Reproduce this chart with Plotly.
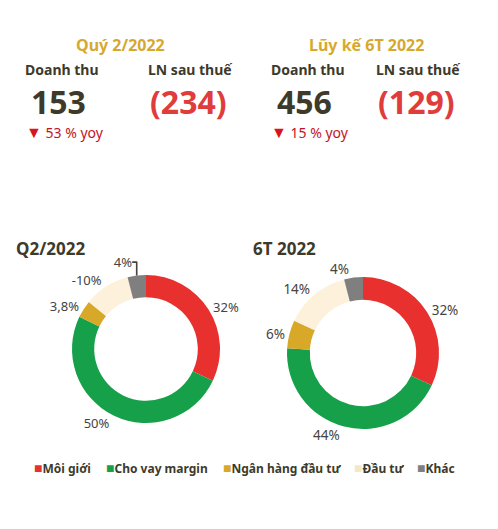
import plotly.graph_objects as go

# ── palette ──────────────────────────────────────────────────────────────
_DARK = "#3d3a2b"
_GOLD = "#d6a92e"
_RED = "#e03c3c"
_YOY = "#c4141f"
_FONT = "Noto Sans, Open Sans, sans-serif"

segments = ["Môi giới", "Cho vay margin", "Ngân hàng đầu tư", "Đầu tư", "Khác"]
seg_colors = ["#e8302f", "#16a04a", "#d8a829", "#fdf1dc", "#7f7f7f"]

q2_share = [32, 50, 3.8, 10, 4]          # slice size (abs %)
q2_text = ["32%", "50%", "3,8%", "-10%", "4%"]
h1_share = [32, 44, 6, 14, 4]
h1_text = ["32%", "44%", "6%", "14%", "4%"]

periods = ["Quý 2/2022", "Lũy kế 6T 2022"]
revenue = ["153", "456"]
profit = ["(234)", "(129)"]
rev_yoy = ["53 % yoy", "15 % yoy"]
chart_titles = ["Q2/2022", "6T 2022"]

W, H = 498, 529


def dom(cx, cy, r):
    return dict(x=[(cx - r) / W, (cx + r) / W], y=[1 - (cy + r) / H, 1 - (cy - r) / H])


fig = go.Figure()

for vals, txt, d, fs in [
    (q2_share, q2_text, dom(146, 349, 74), 13),
    (h1_share, h1_text, dom(363, 353, 76), 13.5),
]:
    fig.add_trace(go.Pie(
        labels=segments,
        values=vals,
        text=txt,
        textinfo="text",
        textposition="outside",
        textfont=dict(size=fs, color="#464340", family=_FONT),
        hole=0.70,
        sort=False,
        direction="clockwise",
        rotation=0,
        marker=dict(colors=seg_colors, line=dict(width=0)),
        domain=d,
        showlegend=False,
        hoverinfo="label+text",
    ))


def note(x, y, text, size, color, bold=False, xanchor="center"):
    fig.add_annotation(
        x=x / W, y=1 - y / H, xref="paper", yref="paper",
        text=f"<b>{text}</b>" if bold else text,
        showarrow=False, xanchor=xanchor, yanchor="middle",
        font=dict(size=size, color=color, family=_FONT),
        borderpad=0,
    )


# KPI blocks
kpi_pos = [
    dict(title=120, rev=62, prof=190, yoy=25),
    dict(title=366, rev=308, prof=418, yoy=270),
]
for k, p in enumerate(kpi_pos):
    note(p["title"], 45, periods[k], 16, _GOLD, bold=True)
    note(p["rev"], 70, "Doanh thu", 14, _DARK, bold=True)
    note(p["prof"], 70, "LN sau thuế", 14, _DARK, bold=True)
    note(p["rev"] - 4, 101, revenue[k], 32, _DARK, bold=True)
    note(p["prof"] - 2, 101, profit[k], 32, _RED, bold=True)
    note(p["yoy"], 132,
         f"<span style='color:#d8141c;font-size:16px'>▼</span> {rev_yoy[k]}",
         14, _YOY, xanchor="left")

note(15, 248, chart_titles[0], 17, _DARK, bold=True, xanchor="left")
note(252, 248, chart_titles[1], 17, _DARK, bold=True, xanchor="left")

# legend row
legend_x = [33, 105, 222, 353, 416]
for name, col, lx in zip(segments, seg_colors, legend_x):
    sq_col = "#f6e6c8" if name == "Đầu tư" else col
    note(lx, 467, f"<span style='color:{sq_col};font-size:14px'>■</span><b>{name}</b>",
         12, _DARK, xanchor="left")

fig.update_layout(
    width=W, height=H,
    margin=dict(l=0, r=0, t=0, b=0),
    paper_bgcolor="white",
    plot_bgcolor="white",
    font=dict(family=_FONT, color=_DARK),
    showlegend=False,
)

fig.write_html("out.html", config={"displayModeBar": False},
               post_script="document.body.style.margin='0';")
